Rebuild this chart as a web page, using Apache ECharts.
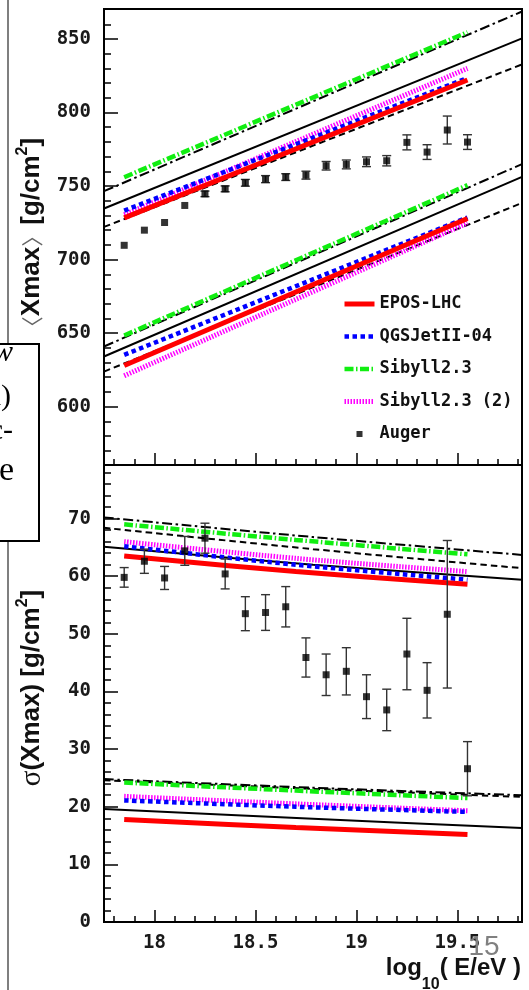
<!DOCTYPE html>
<html><head><meta charset="utf-8">
<script src="https://cdn.jsdelivr.net/npm/echarts@6/dist/echarts.min.js"></script>
<style>html,body{margin:0;padding:0;background:#fff;}#c{width:529px;height:990px;}</style>
</head><body><div id="c"></div>
<script>
// ---------- ticks ----------
const xMajorTicks = [18, 18.5, 19, 19.5];
const xMinorTicks = [17.8, 17.9, 18.1, 18.2, 18.3, 18.4, 18.6, 18.7, 18.8, 18.9, 19.1, 19.2, 19.3, 19.4, 19.6, 19.7, 19.8];
const yMeanMajorTicks = [600, 650, 700, 750, 800, 850];
const yMeanMinorTicks = [570, 580, 590, 610, 620, 630, 640, 660, 670, 680, 690, 710, 720, 730, 740, 760, 770, 780, 790, 810, 820, 830, 840, 860];
const ySigmaMajorTicks = [0, 10, 20, 30, 40, 50, 60, 70];
const ySigmaMinorTicks = [2, 4, 6, 8, 12, 14, 16, 18, 22, 24, 26, 28, 32, 34, 36, 38, 42, 44, 46, 48, 52, 54, 56, 58, 62, 64, 66, 68, 72, 74, 76, 78];

// ---------- Auger data ----------
const augerX = [17.85, 17.95, 18.05, 18.15, 18.25, 18.35, 18.45, 18.55, 18.65, 18.75, 18.85, 18.95, 19.05, 19.15, 19.25, 19.35, 19.45, 19.55];
const augerMean = [709.7, 720.0, 725.2, 736.8, 744.7, 748.1, 752.2, 754.7, 756.1, 757.4, 763.8, 764.7, 766.5, 767.2, 779.7, 773.1, 788.1, 779.9];
const augerMeanErr = [0, 0, 0, 0, 1.9, 2.0, 2.3, 2.4, 2.3, 2.7, 2.9, 3.0, 3.3, 3.5, 5.1, 5.0, 9.5, 5.0];
const augerSigma = [59.8, 62.6, 59.7, 64.4, 66.6, 60.4, 53.5, 53.7, 54.7, 45.9, 42.9, 43.5, 39.1, 36.8, 46.5, 40.2, 53.4, 26.6];
const augerSigmaErr = [1.7, 2.1, 2.0, 2.5, 2.6, 2.6, 2.95, 3.1, 3.5, 3.4, 3.6, 4.1, 3.8, 3.6, 6.2, 4.8, 12.8, 4.7];

// ---------- model predictions: <Xmax> ----------
const modelMeanX = [17.85, 19.55];
const eposMeanP = [728.4, 822.1];
const eposMeanFe = [628.0, 727.9];
const qgsMeanP = [733.3, 823.5];
const qgsMeanFe = [635.2, 728.6];
const sibMeanP = [756.0, 854.6];
const sibMeanFe = [648.4, 750.6];
const sib2MeanP = [730.5, 830.0];
const sib2MeanFe = [621.0, 724.9];
// reference black lines (full range)
const refX = [17.75, 19.82];
const refDashDotMeanP = [746.5, 868.7];
const refSolidMeanP = [734.7, 850.4];
const refDashedMeanP = [722.2, 832.7];
const refDashDotMeanFe = [640.9, 764.9];
const refSolidMeanFe = [634.1, 756.2];
const refDashedMeanFe = [623.8, 738.5];

// ---------- model predictions: sigma(Xmax) ----------
const modelSigmaX = [17.85, 18.7, 19.55];
const eposSigmaP = [63.5, 60.8, 58.6];
const eposSigmaFe = [17.8, 16.4, 15.2];
const qgsSigmaP = [65.2, 62.0, 59.4];
const qgsSigmaFe = [21.1, 20.0, 19.1];
const sibSigmaP = [69.0, 66.3, 63.8];
const sibSigmaFe = [24.2, 22.8, 21.5];
const sib2SigmaP = [66.0, 63.1, 60.8];
const sib2SigmaFe = [21.8, 20.5, 19.3];
const refSigmaX = [17.75, 18.785, 19.82];
const refDashDotSigmaP = [70.2, 66.8, 63.7];
const refDashedSigmaP = [68.4, 64.7, 61.4];
const refSolidSigmaP = [65.1, 62.0, 59.4];
const refDashDotSigmaFe = [24.8, 23.3, 22.0];
const refDashedSigmaFe = [24.6, 23.1, 21.7];
const refSolidSigmaFe = [19.6, 17.9, 16.3];

const legendNames = ['EPOS-LHC', 'QGSJetII-04', 'Sibyll2.3', 'Sibyll2.3 (2)', 'Auger'];

// ---------- styles ----------
const C_RED = '#ff0000', C_BLUE = '#0000ff', C_GREEN = '#11ee11', C_MAG = '#ff00ff';
const DASH_BLUE = [4.5, 3.5], DASH_GREEN = [9, 2.5, 1.5, 2.5], DASH_MAG = [1.5, 1.5];
const DASH_BK = [6.5, 4], DASH_DOT_BK = [10, 3.5, 2.5, 3.5];
const MONO = 'DejaVu Sans Mono';

function pairs(xs, ys) { return xs.map((x, i) => [x, ys[i]]); }
function lineS(name, xs, ys, color, width, type, gi, z) {
  return {
    type: 'line', name: name, xAxisIndex: gi * 2, yAxisIndex: gi * 2,
    data: pairs(xs, ys), symbol: 'none', showSymbol: false,
    smooth: ys.length > 2 ? 0.35 : false,
    lineStyle: { color: color, width: width, type: type },
    itemStyle: { color: color }, silent: true, z: z
  };
}
function errS(ys, es, gi) {
  return {
    type: 'custom', xAxisIndex: gi * 2, yAxisIndex: gi * 2, z: 5, silent: true,
    data: augerX.map((x, i) => [x, ys[i] - es[i], ys[i] + es[i]]),
    encode: { x: 0, y: [1, 2] },
    renderItem: function (params, api) {
      const x = api.value(0), lo = api.value(1), hi = api.value(2);
      if (!(hi - lo > 0)) return { type: 'group', children: [] };
      const a = api.coord([x, lo]), b = api.coord([x, hi]);
      const w = 4.5, st = { stroke: '#333', lineWidth: 1.4 };
      return { type: 'group', children: [
        { type: 'line', shape: { x1: a[0], y1: a[1], x2: b[0], y2: b[1] }, style: st },
        { type: 'line', shape: { x1: a[0] - w, y1: a[1], x2: a[0] + w, y2: a[1] }, style: st },
        { type: 'line', shape: { x1: b[0] - w, y1: b[1], x2: b[0] + w, y2: b[1] }, style: st }
      ] };
    }
  };
}
function scatS(ys, gi) {
  return { type: 'scatter', name: 'Auger', xAxisIndex: gi * 2, yAxisIndex: gi * 2,
    data: pairs(augerX, ys), symbol: 'rect', symbolSize: 7,
    itemStyle: { color: '#000' }, z: 6, silent: true };
}
function axis(pos, gi, min, max, ticks, len, main, labels, margin) {
  return {
    type: 'value', gridIndex: gi, min: min, max: max, position: pos,
    axisLine: { show: main, onZero: false, lineStyle: { color: '#000', width: 2 } },
    splitLine: { show: false },
    axisTick: { show: true, inside: true, length: len, customValues: ticks, lineStyle: { color: '#000', width: 1.5 } },
    axisLabel: labels ? { show: true, customValues: ticks, margin: margin, fontFamily: MONO, fontWeight: 'bold', fontSize: 19, color: '#1a1a1a' } : { show: false }
  };
}

const series = [];
// black reference lines
[[0, refX, [refDashDotMeanP, refSolidMeanP, refDashedMeanP, refDashDotMeanFe, refSolidMeanFe, refDashedMeanFe]],
 [1, refSigmaX, [refDashDotSigmaP, refSolidSigmaP, refDashedSigmaP, refDashDotSigmaFe, refSolidSigmaFe, refDashedSigmaFe]]]
  .forEach(([gi, xs, arr]) => {
    const types = [DASH_DOT_BK, 'solid', DASH_BK, DASH_DOT_BK, 'solid', DASH_BK];
    arr.forEach((ys, k) => series.push(lineS(undefined, xs, ys, '#000', 2, types[k], gi, 2)));
  });
// models
const models = [
  ['Sibyll2.3', C_GREEN, 4.5, DASH_GREEN, sibMeanP, sibMeanFe, sibSigmaP, sibSigmaFe],
  ['Sibyll2.3 (2)', C_MAG, 5, DASH_MAG, sib2MeanP, sib2MeanFe, sib2SigmaP, sib2SigmaFe],
  ['QGSJetII-04', C_BLUE, 4.5, DASH_BLUE, qgsMeanP, qgsMeanFe, qgsSigmaP, qgsSigmaFe],
  ['EPOS-LHC', C_RED, 5, 'solid', eposMeanP, eposMeanFe, eposSigmaP, eposSigmaFe]
];
models.forEach((m, k) => {
  series.push(lineS(m[0], modelMeanX, m[4], m[1], m[2], m[3], 0, 3 + k * 0.1));
  series.push(lineS(m[0], modelMeanX, m[5], m[1], m[2], m[3], 0, 3 + k * 0.1));
  series.push(lineS(m[0], modelSigmaX, m[6], m[1], m[2], m[3], 1, 3 + k * 0.1));
  series.push(lineS(m[0], modelSigmaX, m[7], m[1], m[2], m[3], 1, 3 + k * 0.1));
});
series.push(errS(augerMean, augerMeanErr, 0));
series.push(errS(augerSigma, augerSigmaErr, 1));
series.push(scatS(augerMean, 0));
series.push(scatS(augerSigma, 1));

const XMIN = 17.75, XMAX = 19.82;
const option = {
  animation: false,
  backgroundColor: '#fff',
  grid: [
    { left: 104, top: 9, width: 418, height: 456, show: true, borderColor: '#000', borderWidth: 2, backgroundColor: 'transparent' },
    { left: 104, top: 465, width: 418, height: 457, show: true, borderColor: '#000', borderWidth: 2, backgroundColor: 'transparent' }
  ],
  xAxis: [
    axis('bottom', 0, XMIN, XMAX, xMajorTicks, 12, true, false),
    axis('bottom', 0, XMIN, XMAX, xMinorTicks, 6, false, false),
    axis('bottom', 1, XMIN, XMAX, xMajorTicks, 12, true, true, 12),
    axis('bottom', 1, XMIN, XMAX, xMinorTicks, 6, false, false)
  ],
  yAxis: [
    axis('left', 0, 560.3, 870.4, yMeanMajorTicks, 14, true, true, 13),
    axis('left', 0, 560.3, 870.4, yMeanMinorTicks, 7, false, false),
    axis('left', 1, 0, 79.3, ySigmaMajorTicks, 14, true, true, 13),
    axis('left', 1, 0, 79.3, ySigmaMinorTicks, 7, false, false)
  ],
  legend: {
    show: true, orient: 'vertical', left: 342, top: 295, padding: 0,
    itemWidth: 30, itemHeight: 14, itemGap: 14.5, selectedMode: false,
    textStyle: { fontFamily: MONO, fontWeight: 'bold', fontSize: 17, color: '#111', lineHeight: 18 },
    lineStyle: { width: 'inherit' },
    data: [
      { name: legendNames[0], itemStyle: { opacity: 0 } },
      { name: legendNames[1], itemStyle: { opacity: 0 } },
      { name: legendNames[2], itemStyle: { opacity: 0 } },
      { name: legendNames[3], itemStyle: { opacity: 0 } },
      { name: legendNames[4], icon: 'path://M0,0M30,0M30,14M0,14M12,4h6v6h-6z' }
    ]
  },
  graphic: [
    { type: 'line', z: 0, shape: { x1: 8, y1: 0, x2: 8, y2: 990 }, style: { stroke: '#555', lineWidth: 1.5 } },
    { type: 'rect', z: 1, shape: { x: -3, y: 344, width: 42, height: 197 }, style: { fill: '#fff', stroke: '#000', lineWidth: 2 } },
    { type: 'text', z: 2, x: 13, y: 368, style: { text: 'w', fontFamily: 'Liberation Serif', fontStyle: 'italic', fontSize: 30, fill: '#000', align: 'right', verticalAlign: 'bottom' } },
    { type: 'text', z: 2, x: 11, y: 412, style: { text: 'x)', fontFamily: 'Liberation Serif', fontSize: 30, fill: '#000', align: 'right', verticalAlign: 'bottom' } },
    { type: 'text', z: 2, x: 13, y: 446, style: { text: 'ec-', fontFamily: 'Liberation Serif', fontSize: 30, fill: '#000', align: 'right', verticalAlign: 'bottom' } },
    { type: 'text', z: 2, x: 14, y: 488, style: { text: 'he', fontFamily: 'Liberation Serif', fontSize: 34, fill: '#000', align: 'right', verticalAlign: 'bottom' } },
    { type: 'text', z: 2, x: 32, y: 238, rotation: Math.PI / 2, style: {
        text: '{a|〈}{b|Xmax}{a|〉}{b|[g/cm}{s|2}{b|]}', align: 'center', verticalAlign: 'middle',
        rich: {
          a: { fontFamily: 'Noto Sans CJK SC', fontWeight: 'normal', fontSize: 22, fill: '#666' },
          b: { fontFamily: 'Liberation Sans', fontWeight: 'bold', fontSize: 26, fill: '#111', lineHeight: 34 },
          s: { fontFamily: 'Liberation Sans', fontWeight: 'bold', fontSize: 16, fill: '#111', verticalAlign: 'top' }
        } } },
    { type: 'text', z: 2, x: 32, y: 688, rotation: Math.PI / 2, style: {
        text: '{g|σ}{b|(Xmax) [g/cm}{s|2}{b|]}', align: 'center', verticalAlign: 'middle',
        rich: {
          g: { fontFamily: 'Liberation Serif', fontWeight: 'normal', fontSize: 29, fill: '#111' },
          b: { fontFamily: 'Liberation Sans', fontWeight: 'bold', fontSize: 26, fill: '#111', lineHeight: 34 },
          s: { fontFamily: 'Liberation Sans', fontWeight: 'bold', fontSize: 16, fill: '#111', verticalAlign: 'top' }
        } } },
    { type: 'text', z: 2, x: 521, y: 968, style: {
        text: '{b|log}{s|10}{b|( E/eV )}', align: 'right', verticalAlign: 'middle',
        rich: {
          b: { fontFamily: 'Liberation Sans', fontWeight: 'bold', fontSize: 24, fill: '#111', lineHeight: 50 },
          s: { fontFamily: 'Liberation Sans', fontWeight: 'bold', fontSize: 16, fill: '#111', verticalAlign: 'bottom' }
        } } },
    { type: 'text', z: 10, x: 484, y: 947, style: { text: '15', fontFamily: 'Liberation Sans', fontSize: 28, fill: '#808080', align: 'center', verticalAlign: 'middle' } }
  ],
  series: series
};
const chart = echarts.init(document.getElementById('c'), null, { renderer: 'canvas' });
chart.setOption(option);
</script>
</body></html>
